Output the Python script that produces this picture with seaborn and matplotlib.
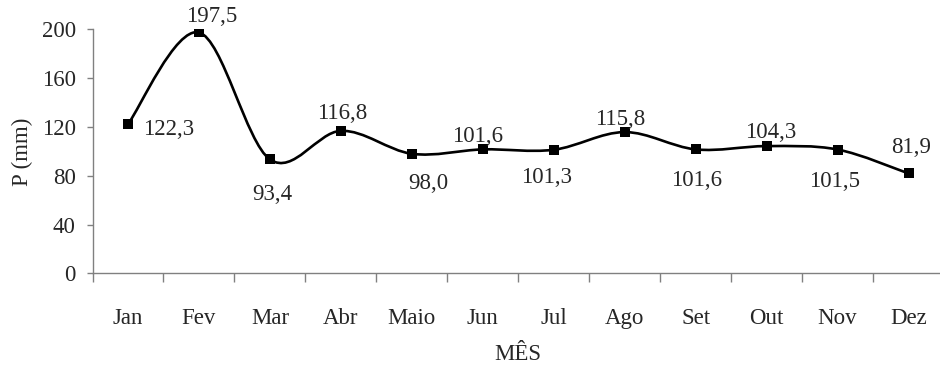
import numpy as np
import matplotlib
matplotlib.use("Agg")
import matplotlib.pyplot as plt
from matplotlib.path import Path
from matplotlib.patches import PathPatch
from matplotlib.ticker import FixedLocator, NullFormatter, FixedFormatter
import seaborn as sns

# Monthly precipitation (mm)
meses = ["Jan", "Fev", "Mar", "Abr", "Maio", "Jun", "Jul", "Ago", "Set", "Out", "Nov", "Dez"]
precipitacao = [122.3, 197.5, 93.4, 116.8, 98.0, 101.6, 101.3, 115.8, 101.6, 104.3, 101.5, 81.9]
y_ticks = [0, 40, 80, 120, 160, 200]

# label placement (pixels relative to each marker: right, down) and alignment
label_offsets = [(15, 4), (13, -17), (2, 34), (1, -19), (17, 28), (-5, -14),
                 (-7, 26), (-5, -14), (1, 30), (4, -15), (-3, 30), (3, -27)]
label_ha = ["left"] + ["center"] * 11

sns.set_style("white")
plt.rcParams["font.family"] = ["Liberation Serif", "DejaVu Serif"]
plt.rcParams["font.size"] = 16.5

fig = plt.figure(figsize=(9.4, 3.7), dpi=100)
ax = fig.add_axes([92.5 / 940, (370 - 273.3) / 370, (944 - 92.5) / 940, 243.9 / 370])

x = np.arange(len(meses), dtype=float)
y = np.asarray(precipitacao, dtype=float)

# smoothed connecting line: cubic Bezier segments through the points (Catmull-Rom style)
pts = np.column_stack([x, y])
ext = np.vstack([pts[0], pts, pts[-1]])
verts = [tuple(pts[0])]
codes = [Path.MOVETO]
for i in range(len(pts) - 1):
    p0, p1, p2, p3 = ext[i], ext[i + 1], ext[i + 2], ext[i + 3]
    c1 = p1 + (p2 - p0) / 6.0
    c2 = p2 - (p3 - p1) / 6.0
    verts += [tuple(c1), tuple(c2), tuple(p2)]
    codes += [Path.CURVE4] * 3
ax.add_patch(PathPatch(Path(verts, codes), facecolor="none", edgecolor="black",
                       lw=1.9, zorder=2, capstyle="round", joinstyle="round"))

sns.scatterplot(x=x, y=y, marker="s", color="black", s=50, linewidth=0, zorder=3, ax=ax)

for xi, yi, (dx, dy), ha in zip(x, y, label_offsets, label_ha):
    ax.annotate(f"{yi:.1f}".replace(".", ","), (xi, yi), xytext=(dx, -dy - 7),
                textcoords="offset pixels", ha=ha, va="baseline", fontsize=16.5)

ax.set_xlim(-0.5, len(meses) - 0.5)
ax.set_ylim(0, 200)
ax.set_yticks(y_ticks)
ax.set_yticklabels([str(t) for t in y_ticks])

# category boundaries carry the tick marks, category centres carry the names
ax.xaxis.set_major_locator(FixedLocator(np.arange(len(meses) + 1) - 0.5))
ax.xaxis.set_major_formatter(NullFormatter())
ax.xaxis.set_minor_locator(FixedLocator(x))
ax.xaxis.set_minor_formatter(FixedFormatter(meses))
ax.tick_params(axis="x", which="major", direction="out", length=6.5, width=1,
               color="#808080", bottom=True)
ax.tick_params(axis="x", which="minor", length=0, pad=25, labelsize=16.5)
ax.tick_params(axis="y", direction="out", length=4, width=1, color="#808080",
               pad=8, labelsize=16.5, left=True)

for side in ["top", "right"]:
    ax.spines[side].set_visible(False)
for side in ["left", "bottom"]:
    ax.spines[side].set_color("#808080")
    ax.spines[side].set_linewidth(1)

ax.set_xlabel("MÊS", fontsize=16.5, labelpad=11)
ax.set_ylabel("P (mm)", fontsize=16.5, labelpad=6)

fig.savefig("out.png", dpi=100)
